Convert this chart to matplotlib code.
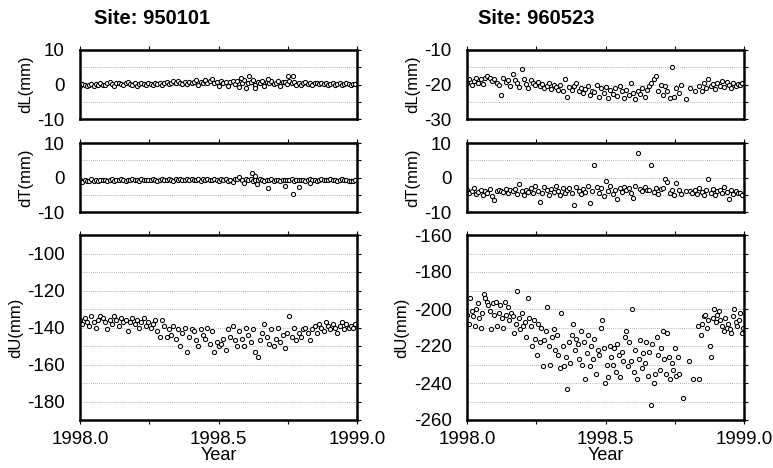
import numpy as np
import matplotlib.pyplot as plt
from matplotlib.ticker import MultipleLocator

plt.rcParams['font.family'] = ['Liberation Sans', 'DejaVu Sans']
plt.rcParams['axes.unicode_minus'] = False

nan = float('nan')

# sampling days (every 3rd day of 1998, and every 2nd day for the dU of 960523)
days3 = list(range(1, 366, 3))
days2 = list(range(1, 366, 2))

# ---- Site 950101 ----
dL_950101 = [
    -0.3, 0.1, -0.2, -0.4, 0.0, 0.2, -0.3, 0.1, -0.1, 0.3,
    0.0, -0.2, 0.4, 0.6, 0.1, -0.3, 0.3, 0.5, 0.2, -0.1,
    0.4, 0.8, 0.2, 0.0, 0.3, -0.4, 0.1, 0.4, 0.2, 0.0,
    0.3, 0.1, -0.2, 0.4, 0.2, 0.5, 0.0, 0.3, 0.6, 0.2,
    0.4, 0.9, 0.3, 1.0, 0.5, 0.2, 0.7, 0.1, 0.8, 0.4,
    0.6, 1.2, -0.2, 0.8, 0.5, 1.0, 0.3, 0.9, 1.6, 0.4,
    0.7, -0.3, 1.1, 0.4, 0.8, -0.5, 0.6, 1.0, 0.2, 0.9,
    -0.6, 0.5, 1.3, -0.9, 0.3, 0.8, 1.2, -0.2, 0.6, 0.4,
    1.0, -0.4, 0.7, 0.3, 0.9, 0.1, 0.5, 1.1, -0.3, 0.6,
    0.8, 0.2, 1.0, 0.4, 0.7, 0.0, 0.5, -0.2, 0.3, 0.6,
    0.2, 0.4, 0.0, 0.3, 0.5, 0.1, 0.3, 0.2, 0.4, 0.0,
    0.2, 0.3, -0.1, 0.2, 0.4, 0.0, 0.1, 0.3, 0.2, 0.0,
    0.1, 0.2]
dL_950101_xt = [1998.45, 1998.58, 1998.61, 1998.63, 1998.68, 1998.75, 1998.77]
dL_950101_xv = [1.2, 1.8, 2.5, -1.0, 1.5, 2.6, 2.6]

dT_950101 = [
    -0.8, -1.2, -0.6, -1.0, -0.9, -0.5, -1.1, -0.7, -0.9, -0.6,
    -0.8, -0.6, -1.0, -0.7, -0.5, -0.9, -0.6, -0.8, -0.4, -0.7,
    -0.9, -0.6, -0.8, -0.5, -0.7, -0.6, -0.9, -0.4, -0.7, -0.8,
    -0.6, -0.8, -0.5, -0.7, -0.9, -0.6, -0.4, -0.8, -0.7, -0.5,
    -0.6, -0.9, -0.5, -0.7, -0.3, -0.8, -0.6, -0.4, -0.7, -0.5,
    -0.8, -0.6, -0.4, -0.9, -0.5, -0.7, -0.3, -0.6, -0.8, -0.5,
    -0.7, -1.0, -0.5, -0.8, -0.4, -0.9, -0.6, -1.2, -0.5, -0.3,
    0.2, -0.8, -1.6, -0.4, -0.7, -0.5, -1.0, -0.6, -0.8, -0.5,
    -0.7, -0.9, -0.6, -0.8, -0.5, -1.0, -0.7, -0.6, -0.9, -0.8,
    -0.6, -0.8, -0.7, -0.5, -0.9, -0.6, -0.8, -0.7, -0.6, -0.9,
    -0.7, -0.5, -0.8, -0.6, -0.9, -0.7, -0.5, -0.8, -0.6, -0.7,
    -0.5, -0.8, -0.6, -0.9, -0.7, -0.4, -0.8, -0.6, -1.0, -0.9,
    -1.1, -0.8]
dT_950101_xt = [1998.62, 1998.63, 1998.64, 1998.68, 1998.74, 1998.77, 1998.79, 1998.83]
dT_950101_xv = [1.2, 0.5, -2.0, -3.0, -2.5, -4.8, -2.7, -1.5]

dU_950101 = [
    -136, -138, -135, -137, -139, -134, -137, -140, -136, -134,
    -135, -137, -141, -136, -138, -134, -136, -139, -135, -137,
    -136, -142, -137, -135, -138, -136, -140, -137, -135, -139,
    -137, -140, -138, -136, -142, -145, -136, -139, -145, -141,
    -144, -139, -146, -141, -150, -143, -140, -153, -145, -141,
    -142, -147, -150, -141, -144, -146, -140, -149, -142, -153,
    -148, -150, -149, -146, -152, -141, -145, -139, -147, -150,
    -142, -146, -150, -140, -144, -148, -141, -153, -156, -147,
    -143, -138, -145, -149, -141, -150, -146, -140, -148, -144,
    -151, -143, -134, -145, -140, -147, -143, -145, -141, -140,
    -143, -147, -141, -139, -143, -138, -140, -142, -137, -139,
    -141, -138, -140, -143, -139, -137, -141, -138, -140, -139,
    -140, -138]

# ---- Site 960523 ----
dL_960523 = [
    -19.5, -18.5, -20.0, -19.0, -18.0, -19.5, -18.5, -19.8, -18.0, -17.5,
    -18.2, -19.0, -18.5, -19.5, -20.0, -23.0, -18.0, -19.2, -18.6, -20.5,
    -17.0, -18.8, -19.5, -20.8, -15.5, -18.5, -19.8, -21.0, -18.7, -19.5,
    -20.0, -19.2, -20.5, -19.8, -21.0, -20.3, -19.6, -21.2, -20.0, -20.6,
    -21.5, -20.2, -22.0, -18.5, -23.5, -20.8, -21.6, -20.5, -19.5, -21.8,
    -21.0, -22.5, -21.3, -20.5, -23.0, -21.8, -22.2, -20.0, -23.5, -21.0,
    -22.5, -20.8, -24.0, -21.5, -22.8, -21.0, -23.2, -20.5, -22.0, -23.8,
    -21.5, -23.0, -19.5, -22.5, -24.2, -21.8, -22.8, -21.0, -23.5, -21.5,
    -20.5, -19.5, -18.5, -17.5, -22.0, -20.0, -23.0, -20.5, -21.8, -24.0,
    -15.0, -23.5, -21.0, -22.5, -20.0, nan, -24.2, nan, -21.0, nan,
    -21.8, nan, -20.5, -22.0, -19.5, -21.0, -18.5, -20.5, -19.8, -21.2,
    -19.5, -20.5, -19.0, -20.8, -19.2, -20.0, -21.0, -19.5, -20.5, -19.8,
    -20.2, -19.5]

dT_960523 = [
    -3.5, -4.5, -4.0, -3.0, -4.8, -4.2, -3.5, -5.0, -3.8, -4.5,
    -3.2, -5.5, -6.5, -4.0, -3.5, -3.8, -4.2, -3.3, -4.6, -3.6,
    -4.0, -3.4, -4.8, -1.8, -3.9, -5.2, -3.5, -4.3, -3.0, -4.6,
    -2.5, -3.8, -7.0, -4.5, -2.8, -3.6, -5.0, -3.2, -4.2, -2.6,
    -3.8, -5.0, -2.9, -4.4, -3.5, -3.0, -4.6, -8.0, -2.7, -3.9,
    -4.8, -3.3, -4.2, -2.5, -7.5, -3.8, 3.5, -2.8, -4.5, -3.1,
    -5.5, -1.0, -4.0, -2.6, -4.8, -3.5, -6.2, -3.0, -4.2, -2.8,
    -3.6, -3.0, -4.5, -5.8, -2.6, 7.0, -3.2, -4.0, -2.8, -3.5,
    -3.5, 3.5, -4.2, -3.0, -4.8, -3.3, -2.9, -0.5, -1.2, -4.5,
    -3.6, -5.0, -1.5, -3.5, -4.8, nan, -4.0, nan, -3.8, -4.5,
    -3.5, -4.8, -3.0, -4.2, -5.2, -3.6, -0.5, -4.5, -3.2, -5.0,
    -4.0, -3.5, -4.6, -2.8, -4.2, -6.2, -3.6, -4.8, -3.8, -4.4,
    -4.6, -5.0]

dU_960523 = [
    -203, -208, -194, -201, -204, -209, -200, -197, -205, -210, -202, -192, -194, -196, -198,
    -201, -211, -197, -203, -196, -209, -202, -198, -205, -210, -196, -203, -199, -206, -202,
    -204, -213, -208, -190, -205, -211, -202, -209, -207, -215, -194, -205, -209, -220, -206,
    -216, -225, -208, -218, -210, -231, -217, -212, -199, -220, -230, -215, -211, -222, -214,
    -225, -232, -202, -220, -231, -226, -243, -218, -229, -214, -208, -222, -216, -219, -227,
    -212, -230, -218, -238, -224, -214, -231, -220, -227, -216, -235, -222, -225, -210, -206,
    -221, -240, -230, -237, -220, -226, -230, -221, -234, -219, -225, -237, -223, -228, -215,
    -212, -231, -218, -228, -200, -234, -222, -238, -227, -217, -232, -224, -229, -218, -236,
    -223, -252, -219, -240, -235, -215, -225, -233, -221, -212, -227, -235, -213, -226, -238,
    -229, -233, -221, -236, -226, -235, nan, -248, nan, nan, nan, -228, nan, nan, -238,
    nan, nan, -209, -238, -214, -208, -204, -203, -210, -206, -220, -226, -205, -200, -207,
    -203, -201, -206, -209, -212, -205, -210, -208, -211, -213, -204, -200, -207, -209, -206,
    -202, -213, -210]


def to_year(days):
    return [1998.0 + (d - 1) / 365.0 for d in days]


def style(ax, ylim, major, minor, ylabel, bottom):
    ax.set_xlim(1998.0, 1999.0)
    ax.set_ylim(*ylim)
    ax.yaxis.set_major_locator(MultipleLocator(major))
    ax.yaxis.set_minor_locator(MultipleLocator(minor))
    ax.xaxis.set_major_locator(MultipleLocator(0.5))
    ax.xaxis.set_minor_locator(MultipleLocator(0.25))
    ax.grid(True, axis='y', which='both', color='#9a9a9a', linestyle=(0, (1, 1.5)), linewidth=0.6)
    ax.set_axisbelow(True)
    for s in ax.spines.values():
        s.set_linewidth(1.8)
    ax.tick_params(which='both', direction='out', top=True, right=True, length=3, width=0.8, labelsize=13.5)
    ax.tick_params(axis='y', which='both', left=False, pad=8)
    ax.tick_params(axis='x', which='both', bottom=bottom, pad=5)
    ax.set_ylabel(ylabel, fontsize=12, labelpad=3)
    if bottom:
        ax.xaxis.set_major_formatter(plt.FuncFormatter(lambda v, p: f"{v:.1f}"))
        ax.set_xlabel("Year", fontsize=13, labelpad=-1)
    else:
        ax.set_xticklabels([])


def dots(ax, x, y):
    ax.plot(x, y, linestyle='none', marker='o', markersize=3.0, markerfacecolor='white',
            markeredgecolor='black', markeredgewidth=0.75)


fig = plt.figure(figsize=(7.73, 4.68), dpi=100)

W = 277 / 773
cols = [80 / 773, 467 / 773]
h_small = 69 / 468
rows = [(1 - 119 / 468, h_small), (1 - 212 / 468, h_small), (1 - 420 / 468, 185 / 468)]

t3 = to_year(days3)
t2 = to_year(days2)

# left column
ax = fig.add_axes([cols[0], rows[0][0], W, rows[0][1]])
dots(ax, t3, dL_950101)
dots(ax, dL_950101_xt, dL_950101_xv)
style(ax, (-10, 10), 10, 5, "dL(mm)", False)

ax = fig.add_axes([cols[0], rows[1][0], W, rows[1][1]])
dots(ax, t3, dT_950101)
dots(ax, dT_950101_xt, dT_950101_xv)
style(ax, (-10, 10), 10, 5, "dT(mm)", False)

ax = fig.add_axes([cols[0], rows[2][0], W, rows[2][1]])
dots(ax, t3, dU_950101)
style(ax, (-190, -90), 20, 10, "dU(mm)", True)
ax.set_yticks([-180, -160, -140, -120, -100])

# right column
ax = fig.add_axes([cols[1], rows[0][0], W, rows[0][1]])
dots(ax, t3, dL_960523)
style(ax, (-30, -10), 10, 5, "dL(mm)", False)

ax = fig.add_axes([cols[1], rows[1][0], W, rows[1][1]])
dots(ax, t3, dT_960523)
style(ax, (-10, 10), 10, 5, "dT(mm)", False)

ax = fig.add_axes([cols[1], rows[2][0], W, rows[2][1]])
dots(ax, t2, dU_960523)
style(ax, (-260, -160), 20, 10, "dU(mm)", True)

fig.text(94 / 773, 1 - 18 / 468, "Site: 950101", fontsize=14.5, fontweight='bold', va='center')
fig.text(478 / 773, 1 - 18 / 468, "Site: 960523", fontsize=14.5, fontweight='bold', va='center')

fig.savefig("out.png", dpi=100)
